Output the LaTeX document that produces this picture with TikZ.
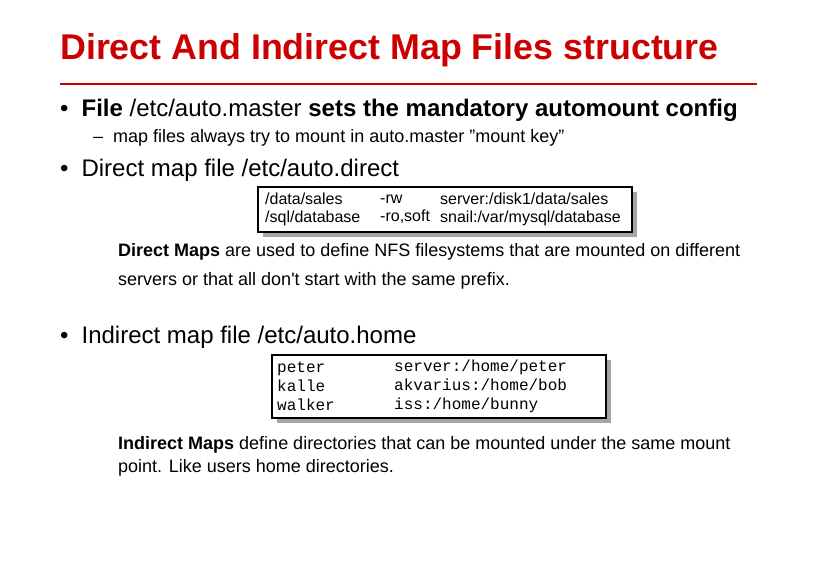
\documentclass[tikz,border=0pt]{standalone}
\usepackage{fontspec}
\setmainfont{Liberation Sans}
\setmonofont{Liberation Mono}
\definecolor{tred}{HTML}{CC0000}
\begin{document}
\begin{tikzpicture}[x=1pt,y=-1pt,
  txt/.style={anchor=west,inner sep=0pt},
  big/.style={txt,font=\fontsize{24}{28}\selectfont},
  mid/.style={txt,font=\fontsize{18}{21}\selectfont},
  boxt/.style={txt,font=\fontsize{16}{18}\selectfont,align=left},
  mapbox/.style={draw=black,line width=2pt,fill=white}]
\useasboundingbox (0,0) rectangle (818,578);
\node[txt,font=\fontsize{35.8}{40}\selectfont\bfseries,text=tred] (title) at (60,50) {Direct And Indirect Map Files structure};
\draw[tred,line width=1.2pt] (60,84) coordinate (l1) -- (757,84) coordinate (l2);
\node[big] (b1) at (60,110) {•\hspace{13pt}\textbf{File} /etc/auto.master \textbf{sets the mandatory automount config}};
\node[mid] (s1) at (93,138) {–\hspace{10pt}map files always try to mount in auto.master ”mount key”};
\node[big] (b2) at (60,170) {•\hspace{13pt}Direct map file /etc/auto.direct};
\fill[gray!70] (263,192) rectangle (637,237);
\draw[mapbox] (258,187) rectangle (632,232);
\node[boxt] (d1) at (265,209.5) {/data/sales\\/sql/database};
\node[boxt] (d2) at (380,209.5) {-rw\\-ro,soft};
\node[boxt] (d3) at (440,209.5) {server:/disk1/data/sales\\snail:/var/mysql/database};
\node[mid] (p1) at (118,252) {\textbf{Direct Maps} are used to define NFS filesystems that are mounted on different};
\node[mid] (p2) at (118,281) {servers or that all don\textquotesingle t start with the same prefix.};
\node[big] (b3) at (60,337) {•\hspace{13pt}Indirect map file /etc/auto.home};
\fill[gray!70] (277,360) rectangle (611,423);
\draw[mapbox] (272,355) rectangle (606,418);
\node[boxt,font=\ttfamily\fontsize{16}{19}\selectfont] (h1) at (277,386.5) {peter\\kalle\\walker};
\node[boxt,font=\ttfamily\fontsize{16}{19}\selectfont] (h2) at (394,386.5) {server:/home/peter\\akvarius:/home/bob\\iss:/home/bunny};
\node[mid] (p3) at (118,445) {\textbf{Indirect Maps} define directories that can be mounted under the same mount};
\node[mid] (p4) at (118,468) {point. Like users home directories.};
\end{tikzpicture}
\end{document}
